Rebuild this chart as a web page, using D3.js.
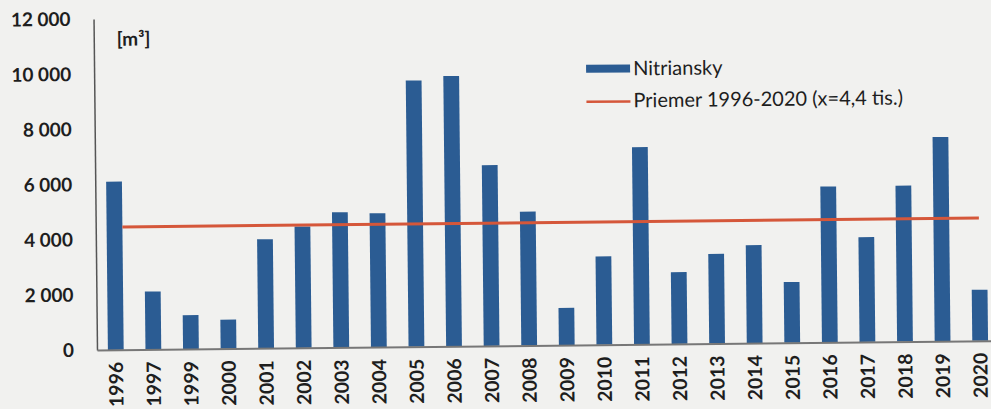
<!DOCTYPE html>
<html>
<head>
<meta charset="utf-8">
<script src="https://cdn.jsdelivr.net/npm/d3@7/dist/d3.min.js"></script>
<style>
  html, body { margin: 0; padding: 0; background: #f1f1ef; }
  svg { display: block; }
  text { font-family: Lato, "Open Sans", sans-serif; fill: #1e1e1e; }
</style>
</head>
<body>
<svg id="chart" width="991" height="409"></svg>
<script>
const years = ["1996","1997","1999","2000","2001","2002","2003","2004","2005","2006","2007","2008","2009","2010","2011","2012","2013","2014","2015","2016","2017","2018","2019","2020"];
const values = [6100,2100,1230,1050,3950,4400,4900,4850,9650,9800,6550,4850,1350,3200,7150,2600,3250,3550,2200,5650,3800,5650,7400,1850];
const meanValue = 4450;
const yTicks = [0,2000,4000,6000,8000,10000,12000];
const seriesName = "Nitriansky";
const meanName = "Priemer 1996-2020 (x=4,4 tis.)";
const unitLabel = "[m³]";

const mLeft = 97, mRight = 999, mTop = 19, mBottom = 350;
// the scanned original is slightly tilted; reproduce it with a small rotation
const svg = d3.select("#chart").append("g")
  .attr("transform", `rotate(-0.6, ${mLeft}, ${mBottom})`);

const x = d3.scaleBand().domain(years).range([mLeft, mRight]).paddingInner(0.58).paddingOuter(0.29);
const y = d3.scaleLinear().domain([0, 12000]).range([mBottom, mTop]);

const fmt = v => d3.format(",")(v).replace(/,/g, "\u00A0");

// bars
svg.append("g").selectAll("rect").data(values).join("rect")
  .attr("x", (d, i) => x(years[i]))
  .attr("y", d => y(d))
  .attr("width", x.bandwidth())
  .attr("height", d => y(0) - y(d))
  .attr("fill", "#2b5c93");

// axes
const yAxis = svg.append("g").attr("transform", `translate(${mLeft},0)`)
  .call(d3.axisLeft(y).tickValues(yTicks).tickSize(0).tickPadding(23).tickFormat(fmt));
yAxis.select(".domain").attr("stroke", "#555").attr("stroke-width", 1.5);
yAxis.selectAll("text").style("font-size", "19px").style("font-weight", "bold").attr("fill", "#1e1e1e");

const xAxis = svg.append("g").attr("transform", `translate(0,${mBottom})`)
  .call(d3.axisBottom(x).tickSize(0).tickPadding(0));
xAxis.select(".domain").attr("stroke", "#777").attr("stroke-width", 2);
xAxis.selectAll("text")
  .attr("transform", "rotate(-90)")
  .attr("text-anchor", "end")
  .attr("x", -12).attr("y", 0).attr("dy", "0.36em")
  .style("font-size", "19.5px").style("font-weight", "bold").attr("fill", "#1e1e1e");

// mean line
svg.append("line")
  .attr("x1", x(years[0]) + x.bandwidth())
  .attr("x2", x(years[years.length - 1]) + x.bandwidth() / 2)
  .attr("y1", y(meanValue)).attr("y2", y(meanValue))
  .attr("stroke", "#d5573a").attr("stroke-width", 3);

// unit label
svg.append("text").attr("x", 120).attr("y", 46)
  .style("font-size", "19px").style("font-weight", "bold").text(unitLabel);

// legend
const lg = svg.append("g");
lg.append("rect").attr("x", 589).attr("y", 70).attr("width", 44).attr("height", 8).attr("fill", "#2b5c93");
lg.append("text").attr("x", 636).attr("y", 81).style("font-size", "20px").text(seriesName);
lg.append("line").attr("x1", 589).attr("x2", 633).attr("y1", 107).attr("y2", 107)
  .attr("stroke", "#d5573a").attr("stroke-width", 2.5);
lg.append("text").attr("x", 636).attr("y", 113).style("font-size", "20px").text(meanName);
</script>
</body>
</html>
